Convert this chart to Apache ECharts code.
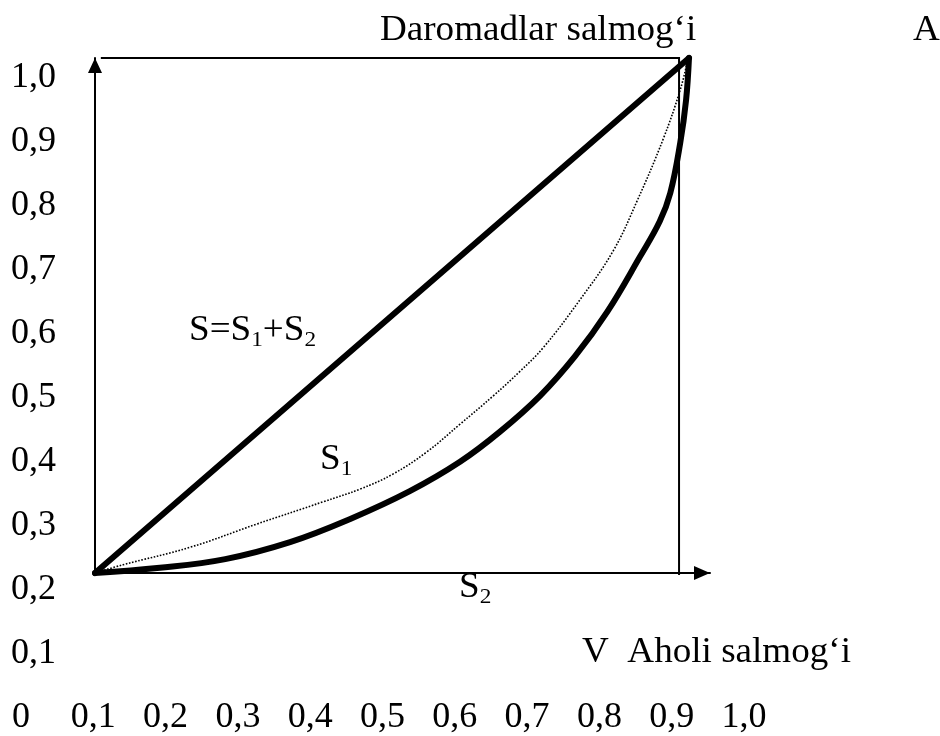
<!DOCTYPE html>
<html><head><meta charset="utf-8">
<script src="https://cdn.jsdelivr.net/npm/echarts@6/dist/echarts.min.js"></script>
<style>html,body{margin:0;padding:0;background:#fff}#c{width:940px;height:736px}</style>
</head><body><div id="c"></div>
<script>
// Tick labels (as printed)
const xTickLabels = ['0','0,1','0,2','0,3','0,4','0,5','0,6','0,7','0,8','0,9','1,0'];
const yTickLabels = ['0','0,1','0,2','0,3','0,4','0,5','0,6','0,7','0,8','0,9','1,0'];

// Curves: [population share, income share]
const equalityLine = [[0, 0], [1.017, 1.0]];
const lorenzCurve = [[0,0],[0.111,0.010],[0.223,0.027],[0.334,0.060],[0.437,0.105],[0.539,0.159],[0.625,0.216],[0.693,0.274],[0.762,0.344],[0.822,0.421],[0.877,0.507],[0.933,0.614],[0.967,0.683],[0.985,0.738],[1.002,0.835],[1.012,0.918],[1.017,1.0]];
const middleCurve = [[0,0],[0.048,0.016],[0.163,0.050],[0.277,0.095],[0.390,0.138],[0.454,0.163],[0.510,0.192],[0.568,0.235],[0.625,0.289],[0.682,0.344],[0.728,0.392],[0.767,0.437],[0.830,0.530],[0.887,0.625],[0.928,0.722],[0.973,0.843],[1.002,0.938],[1.014,0.992]];
const frameTop = [[0.01, 1], [1, 1]];
const frameRight = [[1, 1.002], [1, -0.004]];

// Texts
const yAxisTitle = 'Daromadlar salmog‘i';
const cornerLabel = 'A';
const xAxisTitle = 'V  Aholi salmog‘i';

const FONT = '"Liberation Serif", "Times New Roman", serif';
const FS = 35;
const AXFS = 36;
const SX = 1.06;

const chart = echarts.init(document.getElementById('c'), null, {renderer: 'canvas'});

const thin = {color: '#000', width: 2};
function lineSeries(data, style, smooth) {
  return {
    type: 'line', xAxisIndex: 0, yAxisIndex: 0, data: data,
    showSymbol: false, symbol: 'none', smooth: smooth || false, clip: false,
    lineStyle: style, silent: true, animation: false, z: 5
  };
}

function textEl(x, y, text, rich) {
  const style = {text: text, x: 0, y: 0, fill: '#000', font: FS + 'px ' + FONT,
    align: 'left', verticalAlign: 'middle', textAlign: 'left', textVerticalAlign: 'middle'};
  if (rich) style.rich = rich;
  return {type: 'text', x: x, y: y, scaleX: SX, style: style, silent: true, z: 10};
}
const subRich = {
  a: {fontSize: FS, fontFamily: FONT, lineHeight: 40, color: '#000'},
  s: {fontSize: 22, fontFamily: FONT, lineHeight: 22, verticalAlign: 'bottom', color: '#000'}
};

chart.setOption({
  animation: false,
  backgroundColor: '#fff',
  grid: [
    {left: 95, right: 230, top: 58, bottom: 163},
    {left: 21, right: 196, top: 78, bottom: 18.5}
  ],
  xAxis: [
    {gridIndex: 0, type: 'value', min: 0, max: 1.053,
      axisLine: {show: true, onZero: false, lineStyle: thin, symbol: ['none', 'triangle'], symbolSize: [14, 16], symbolOffset: [0, -8]},
      axisTick: {show: false}, axisLabel: {show: false}, splitLine: {show: false}},
    {gridIndex: 1, type: 'category', data: xTickLabels, boundaryGap: false, position: 'bottom',
      axisLine: {show: false}, axisTick: {show: false}, splitLine: {show: false},
      axisLabel: {show: true, interval: 0, margin: 0, verticalAlign: 'middle', color: '#000', fontFamily: FONT, fontSize: AXFS}}
  ],
  yAxis: [
    {gridIndex: 0, type: 'value', min: 0, max: 1,
      axisLine: {show: true, onZero: false, lineStyle: thin, symbol: ['none', 'triangle'], symbolSize: [14, 15], symbolOffset: [0, -7.5]},
      axisTick: {show: false}, axisLabel: {show: false}, splitLine: {show: false}},
    {gridIndex: 1, type: 'category', data: yTickLabels, boundaryGap: false, position: 'left', offset: 10,
      axisLine: {show: false}, axisTick: {show: false}, splitLine: {show: false},
      axisLabel: {show: true, interval: 0, inside: true, margin: 0, align: 'left', color: '#000', fontFamily: FONT, fontSize: AXFS,
        formatter: function (v, i) { return i === 0 ? '' : v; }}}
  ],
  series: [
    lineSeries(frameTop, thin),
    lineSeries(frameRight, thin),
    lineSeries(middleCurve, {color: '#000', width: 1.6, type: [1.6, 1.6]}, 0.4),
    lineSeries(lorenzCurve, {color: '#000', width: 6, cap: 'round', join: 'round'}, 0.4),
    lineSeries(equalityLine, {color: '#000', width: 6, cap: 'round'})
  ],
  graphic: [
    textEl(380, 31, yAxisTitle),
    textEl(913, 31, cornerLabel),
    textEl(189, 331, '{a|S=S}{s|1}{a|+S}{s|2}', subRich),
    textEl(320, 460, '{a|S}{s|1}', subRich),
    textEl(459, 588, '{a|S}{s|2}', subRich),
    textEl(582, 653, xAxisTitle)
  ]
});
</script></body></html>
